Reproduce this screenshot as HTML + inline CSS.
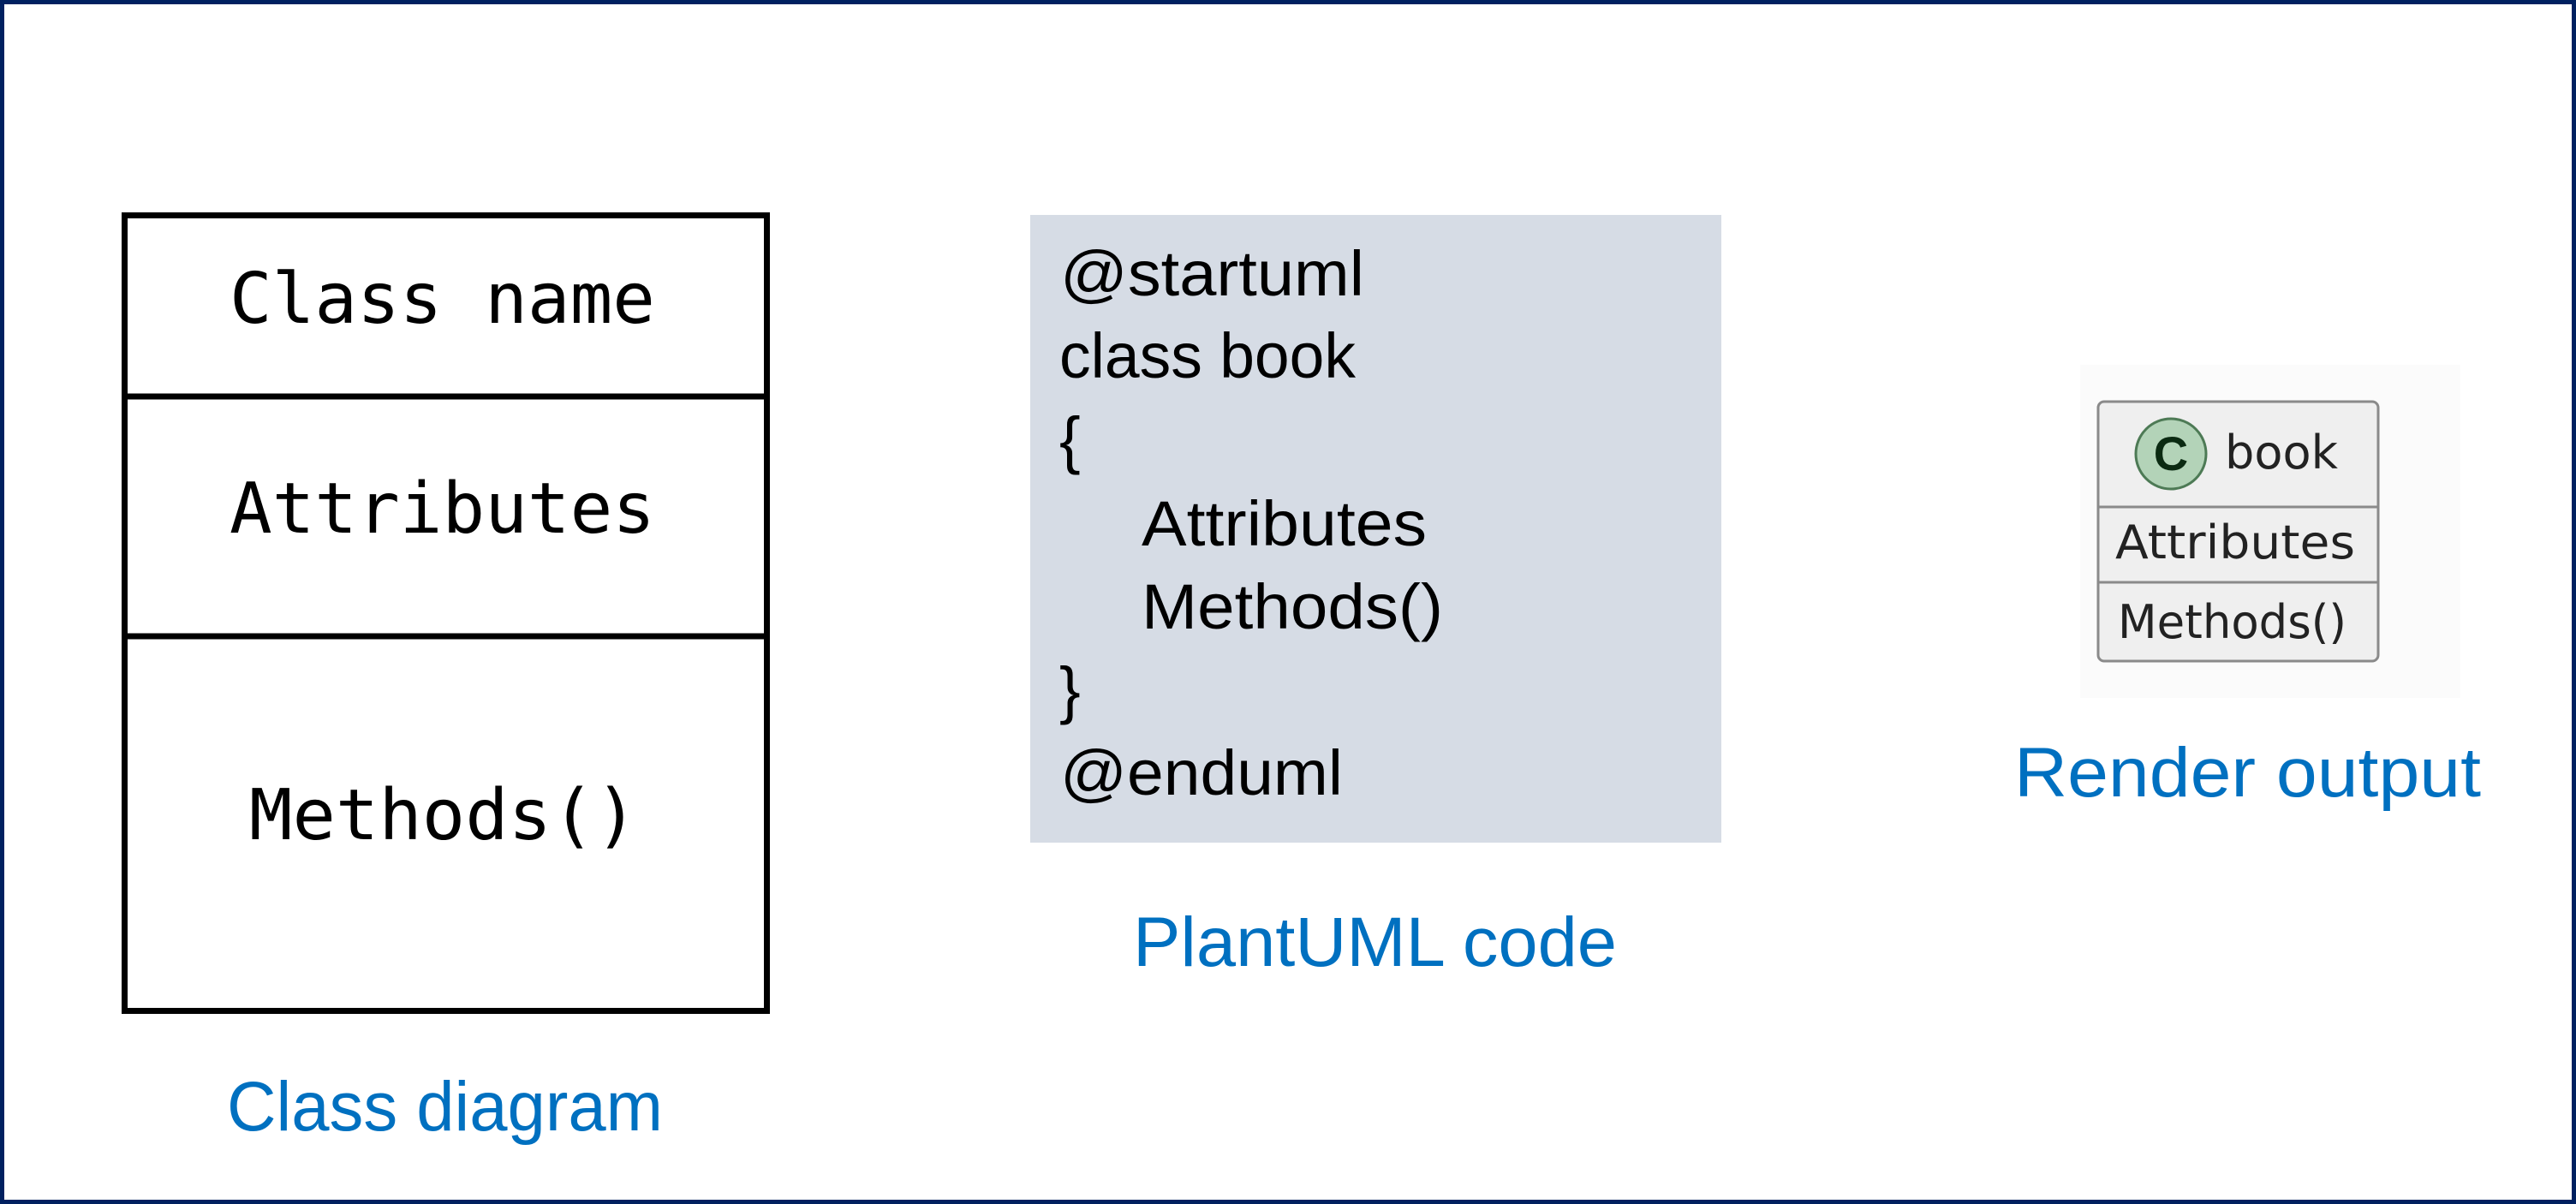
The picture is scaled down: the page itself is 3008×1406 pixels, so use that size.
<!DOCTYPE html>
<html><head><meta charset="utf-8"><style>
html,body{margin:0;padding:0;background:#fff}
svg{display:block}
</style></head><body>
<svg width="3008" height="1406" viewBox="0 0 3008 1406" xmlns="http://www.w3.org/2000/svg">
<rect x="0" y="0" width="3008" height="1406" fill="#fff"/>
<rect x="2.5" y="2.5" width="3003" height="1401" fill="none" stroke="#002060" stroke-width="5"/>

<!-- Class diagram -->
<rect x="145.5" y="251.5" width="750" height="929" fill="#fff" stroke="#000" stroke-width="7"/>
<line x1="145" y1="463" x2="896" y2="463" stroke="#000" stroke-width="7"/>
<line x1="145" y1="743" x2="896" y2="743" stroke="#000" stroke-width="7"/>
<g font-family="'DejaVu Sans Mono', 'Liberation Mono', monospace" font-size="82" fill="#000">
<text x="268" y="377" textLength="497" lengthAdjust="spacingAndGlyphs">Class name</text>
<text x="268" y="622" textLength="497" lengthAdjust="spacingAndGlyphs">Attributes</text>
<text x="291" y="980" textLength="454" lengthAdjust="spacingAndGlyphs">Methods()</text>
</g>
<text x="265" y="1320" font-family="'Liberation Sans', sans-serif" font-size="82" fill="#0070C0" textLength="509" lengthAdjust="spacingAndGlyphs">Class diagram</text>

<!-- PlantUML code -->
<rect x="1203" y="251" width="807" height="733" fill="#d6dce5"/>
<g font-family="'Liberation Sans', sans-serif" font-size="74" fill="#000">
<text x="1238" y="345" textLength="355" lengthAdjust="spacingAndGlyphs">@startuml</text>
<text x="1237" y="441" textLength="346" lengthAdjust="spacingAndGlyphs">class book</text>
<text x="1237" y="539">{</text>
<text x="1333" y="637" textLength="333" lengthAdjust="spacingAndGlyphs">Attributes</text>
<text x="1333" y="734" textLength="352" lengthAdjust="spacingAndGlyphs">Methods()</text>
<text x="1237" y="831">}</text>
<text x="1238" y="928" textLength="330" lengthAdjust="spacingAndGlyphs">@enduml</text>
</g>
<text x="1323" y="1128" font-family="'Liberation Sans', sans-serif" font-size="82" fill="#0070C0" textLength="565" lengthAdjust="spacingAndGlyphs">PlantUML code</text>

<!-- Render output -->
<rect x="2429" y="426" width="444" height="389" fill="#fbfbfb"/>
<rect x="2450" y="469" width="327" height="303" rx="7" fill="#efefef" stroke="#8a8a8a" stroke-width="3"/>
<line x1="2450" y1="592" x2="2777" y2="592" stroke="#8a8a8a" stroke-width="3"/>
<line x1="2450" y1="680" x2="2777" y2="680" stroke="#8a8a8a" stroke-width="3"/>
<circle cx="2535" cy="530" r="41" fill="#b3d3b8" stroke="#4d7a55" stroke-width="3"/>
<text x="2535" y="549" text-anchor="middle" font-family="'Liberation Sans', sans-serif" font-weight="bold" font-size="56" fill="#0b2a12">C</text>
<g font-family="'DejaVu Sans', 'Liberation Sans', sans-serif" font-size="54" fill="#222">
<text x="2598" y="547" textLength="132" lengthAdjust="spacingAndGlyphs">book</text>
<text x="2470" y="652" textLength="280" lengthAdjust="spacingAndGlyphs">Attributes</text>
<text x="2473" y="745" textLength="267" lengthAdjust="spacingAndGlyphs">Methods()</text>
</g>
<text x="2352" y="930" font-family="'Liberation Sans', sans-serif" font-size="82" fill="#0070C0" textLength="545" lengthAdjust="spacingAndGlyphs">Render output</text>
</svg>
</body></html>
